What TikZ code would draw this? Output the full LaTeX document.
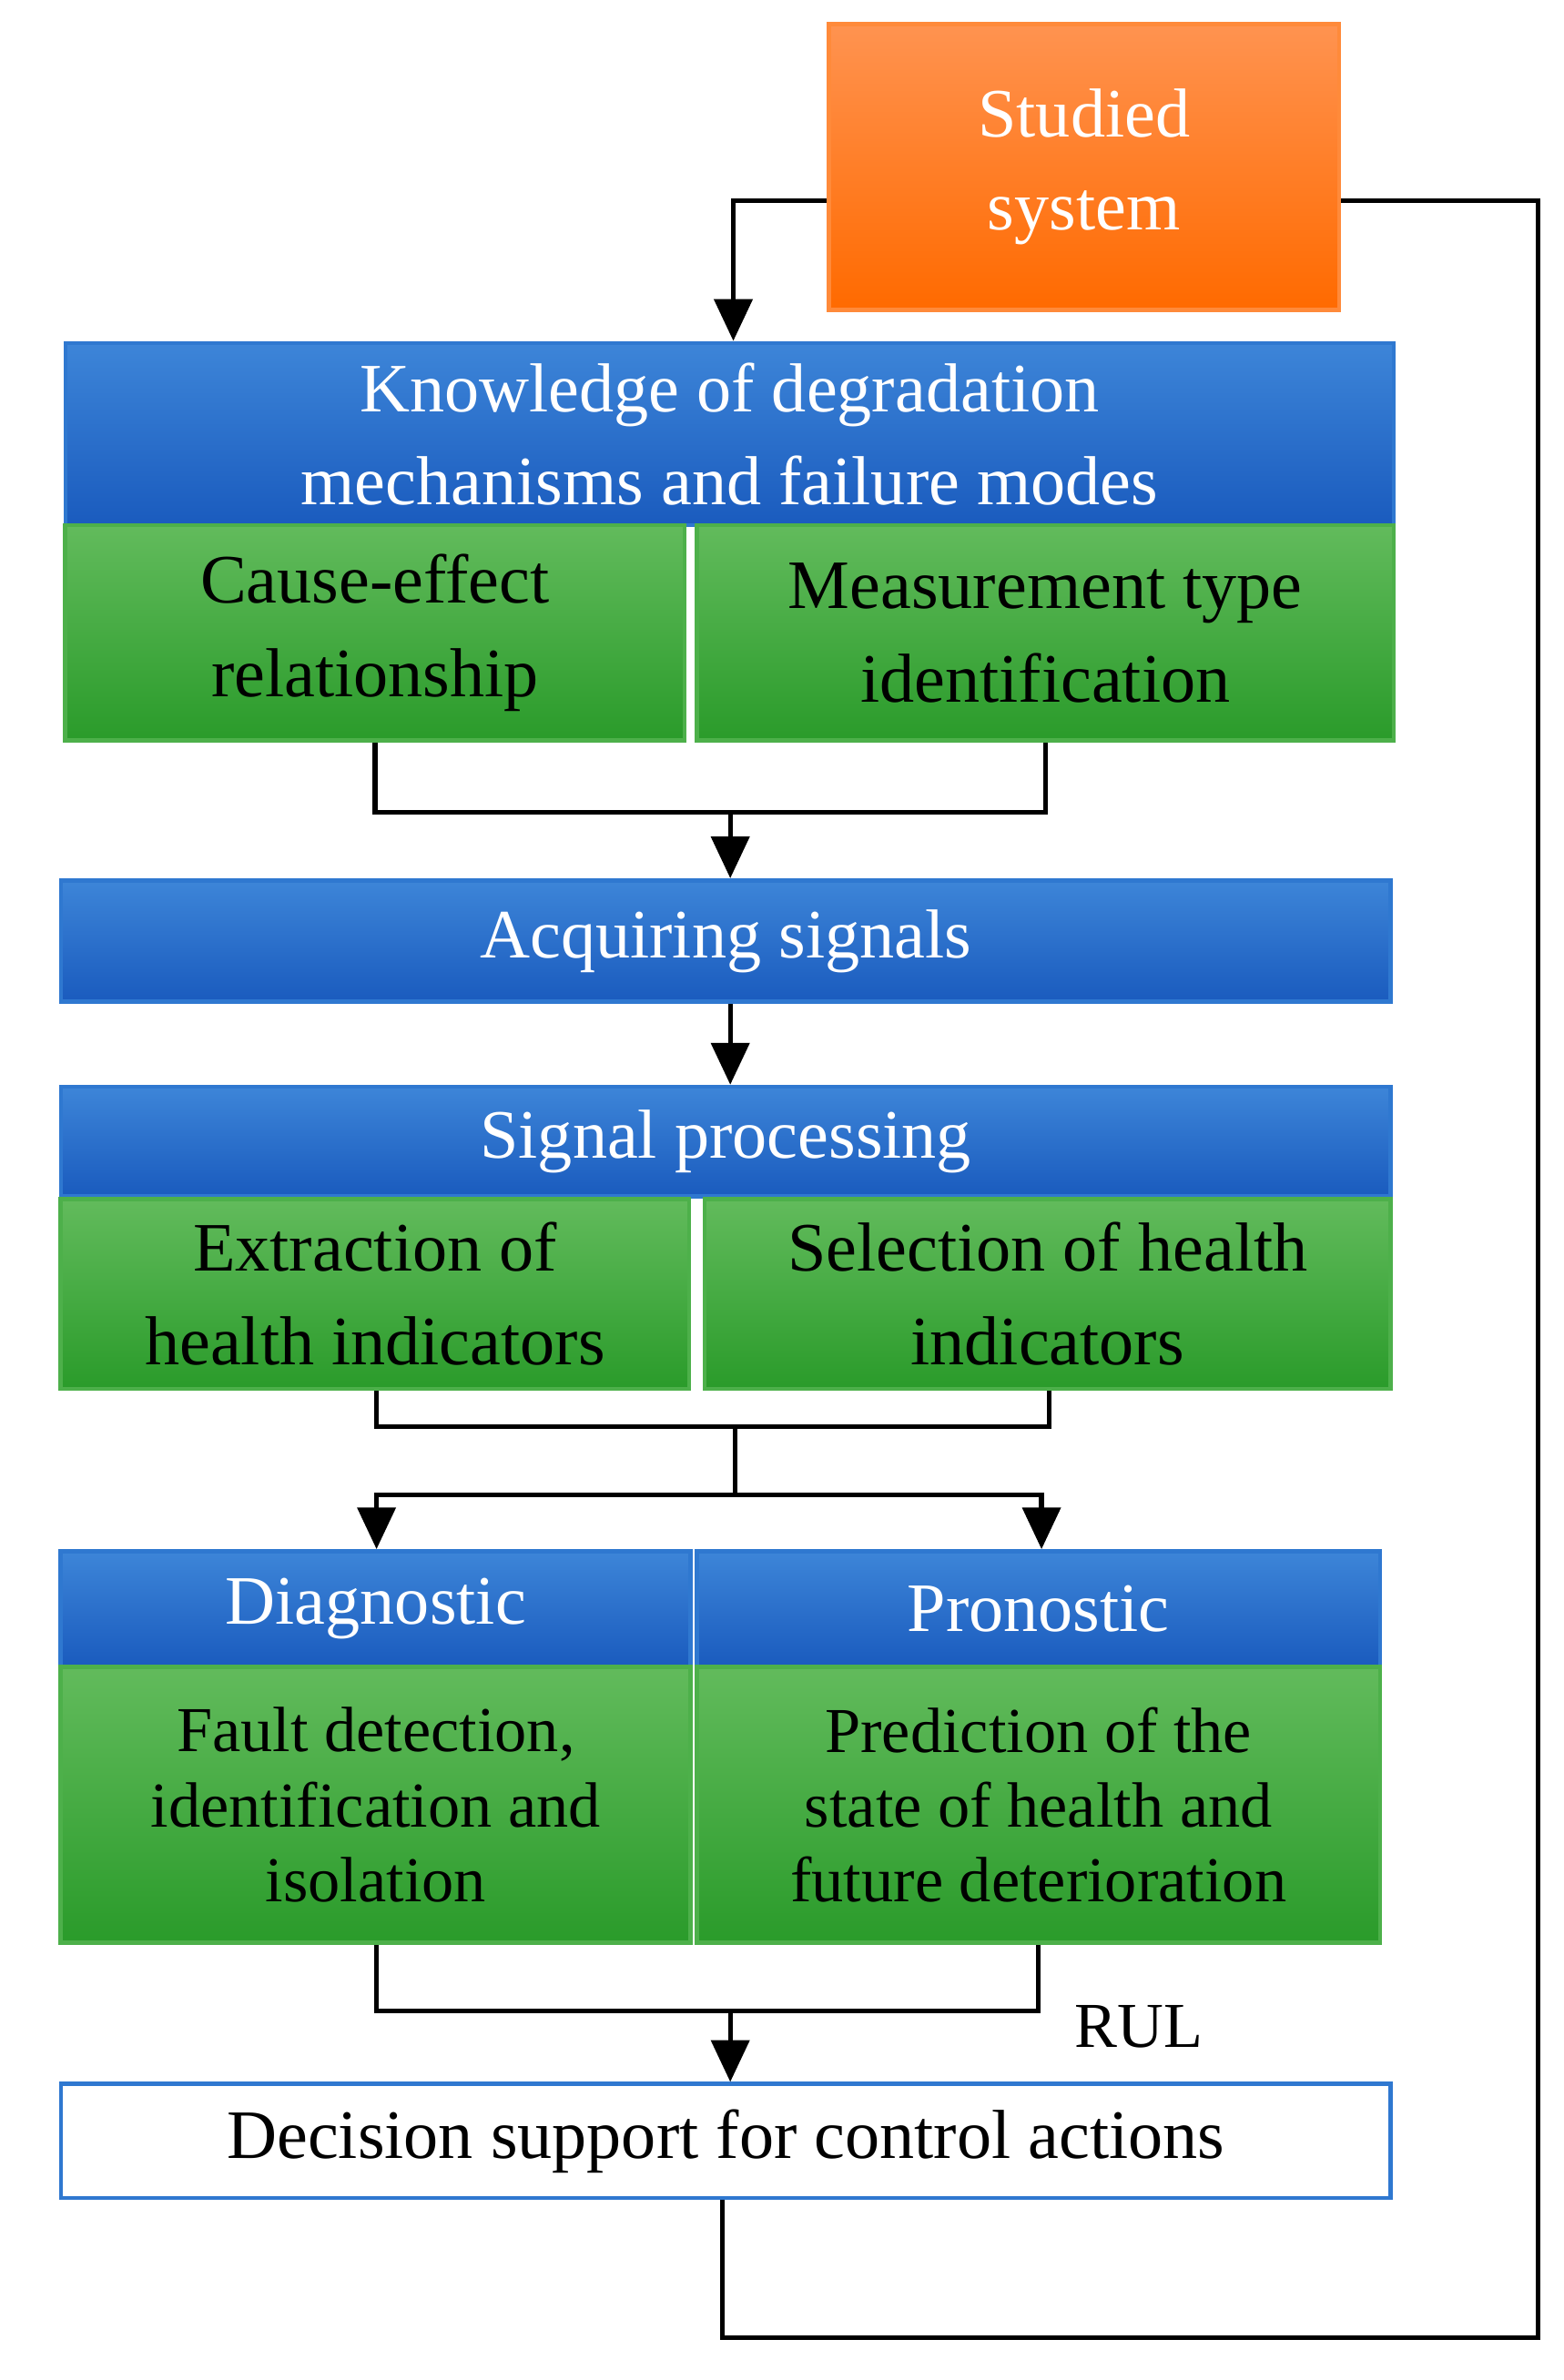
\documentclass[tikz,border=0pt]{standalone}
\usepackage{fontspec}
\setmainfont{Liberation Serif}
\usetikzlibrary{arrows.meta}
\definecolor{bT}{HTML}{3D85D8}\definecolor{bB}{HTML}{1A5BBE}\definecolor{bL}{HTML}{2F78D0}
\definecolor{gT}{HTML}{62BB5C}\definecolor{gB}{HTML}{2A9B2A}\definecolor{gL}{HTML}{4DB04A}
\definecolor{oT}{HTML}{FF9350}\definecolor{oB}{HTML}{FF6A00}\definecolor{oL}{HTML}{FF8A3A}
\tikzset{
 box/.style={draw,line width=1.6pt,inner sep=2pt,align=center,font=\fontsize{26}{35}\selectfont},
 blue/.style={box,draw=bL,top color=bT,bottom color=bB,text=white},
 green/.style={box,draw=gL,top color=gT,bottom color=gB,text=black},
 orange/.style={box,draw=oL,top color=oT,bottom color=oB,text=white},
 wire/.style={line width=1.8pt,black},
 arr/.style={wire,-{Triangle[length=0.55cm,width=0.5cm]}}
}
\begin{document}
\begin{tikzpicture}[x=0.02cm,y=-0.02cm]
\useasboundingbox (0,0) rectangle (1030,1568);
\node[orange,minimum width=6.72cm,minimum height=3.76cm] (ss) at (714,110) {Studied\\system};
\node[blue,minimum width=17.5cm,minimum height=2.4cm] (kn) at (480.5,286) {Knowledge of degradation\\mechanisms and failure modes};
\node[green,minimum width=8.16cm,minimum height=2.84cm] (ce) at (247,417) {Cause-effect\\relationship};
\node[green,minimum width=9.18cm,minimum height=2.84cm] (mt) at (688.5,417) {Measurement type\\identification};
\node[blue,minimum width=17.52cm,minimum height=1.6cm] (aq) at (478,620) {Acquiring signals};
\node[blue,minimum width=17.52cm,minimum height=1.44cm] (sp) at (478,752) {Signal processing};
\node[green,minimum width=8.28cm,minimum height=2.5cm] (ex) at (247,852.5) {Extraction of\\health indicators};
\node[green,minimum width=9.04cm,minimum height=2.5cm] (se) at (690,852.5) {Selection of health\\indicators};
\node[blue,minimum width=8.3cm,minimum height=1.52cm] (dg) at (247.5,1060) {Diagnostic};
\node[green,minimum width=8.3cm,minimum height=3.64cm,font=\fontsize{24}{28}\selectfont] (dgg) at (247.5,1189) {Fault detection,\\identification and\\isolation};
\node[blue,minimum width=9.0cm,minimum height=1.52cm] (pr) at (684,1060) {Pronostic};
\node[green,minimum width=9.0cm,minimum height=3.64cm,font=\fontsize{24}{28}\selectfont] (prg) at (684,1189) {Prediction of the\\state of health and\\future deterioration};
\node[box,draw=bL,fill=white,minimum width=17.52cm,minimum height=1.5cm] (dc) at (478,1410.5) {Decision support for control actions};
\node[font=\fontsize{24}{28}\selectfont] (rul) at (750,1335) {RUL};
% connectors
\coordinate (c1) at (483,132);
\draw[arr] (ss.west|-c1) -| (c1|-kn.north);
\coordinate (c2) at (1013,1540);
\draw[wire] (ss.east|-c1) -| (c2) -| (476,1448|-dc.south);
\coordinate (j1) at (481,535);
\draw[wire] (ce.south) |- (j1) -| (mt.south);
\draw[arr] (j1) -- (j1|-aq.north);
\draw[arr] (481,660|-aq.south) -- (481,716|-sp.north);
\coordinate (j2) at (484,940);
\draw[wire] (248,915|-ex.south) |- (j2) -| (691,915|-se.south);
\coordinate (j3) at (484,985);
\draw[wire] (j2) -- (j3);
\draw[arr] (j3) -| (248,1022|-dg.north);
\draw[arr] (j3) -| (686,1022|-pr.north);
\coordinate (j4) at (481,1325);
\draw[wire] (248,1280|-dgg.south) |- (j4) -| (684,1280|-prg.south);
\draw[arr] (j4) -- (j4|-dc.north);
\end{tikzpicture}
\end{document}
